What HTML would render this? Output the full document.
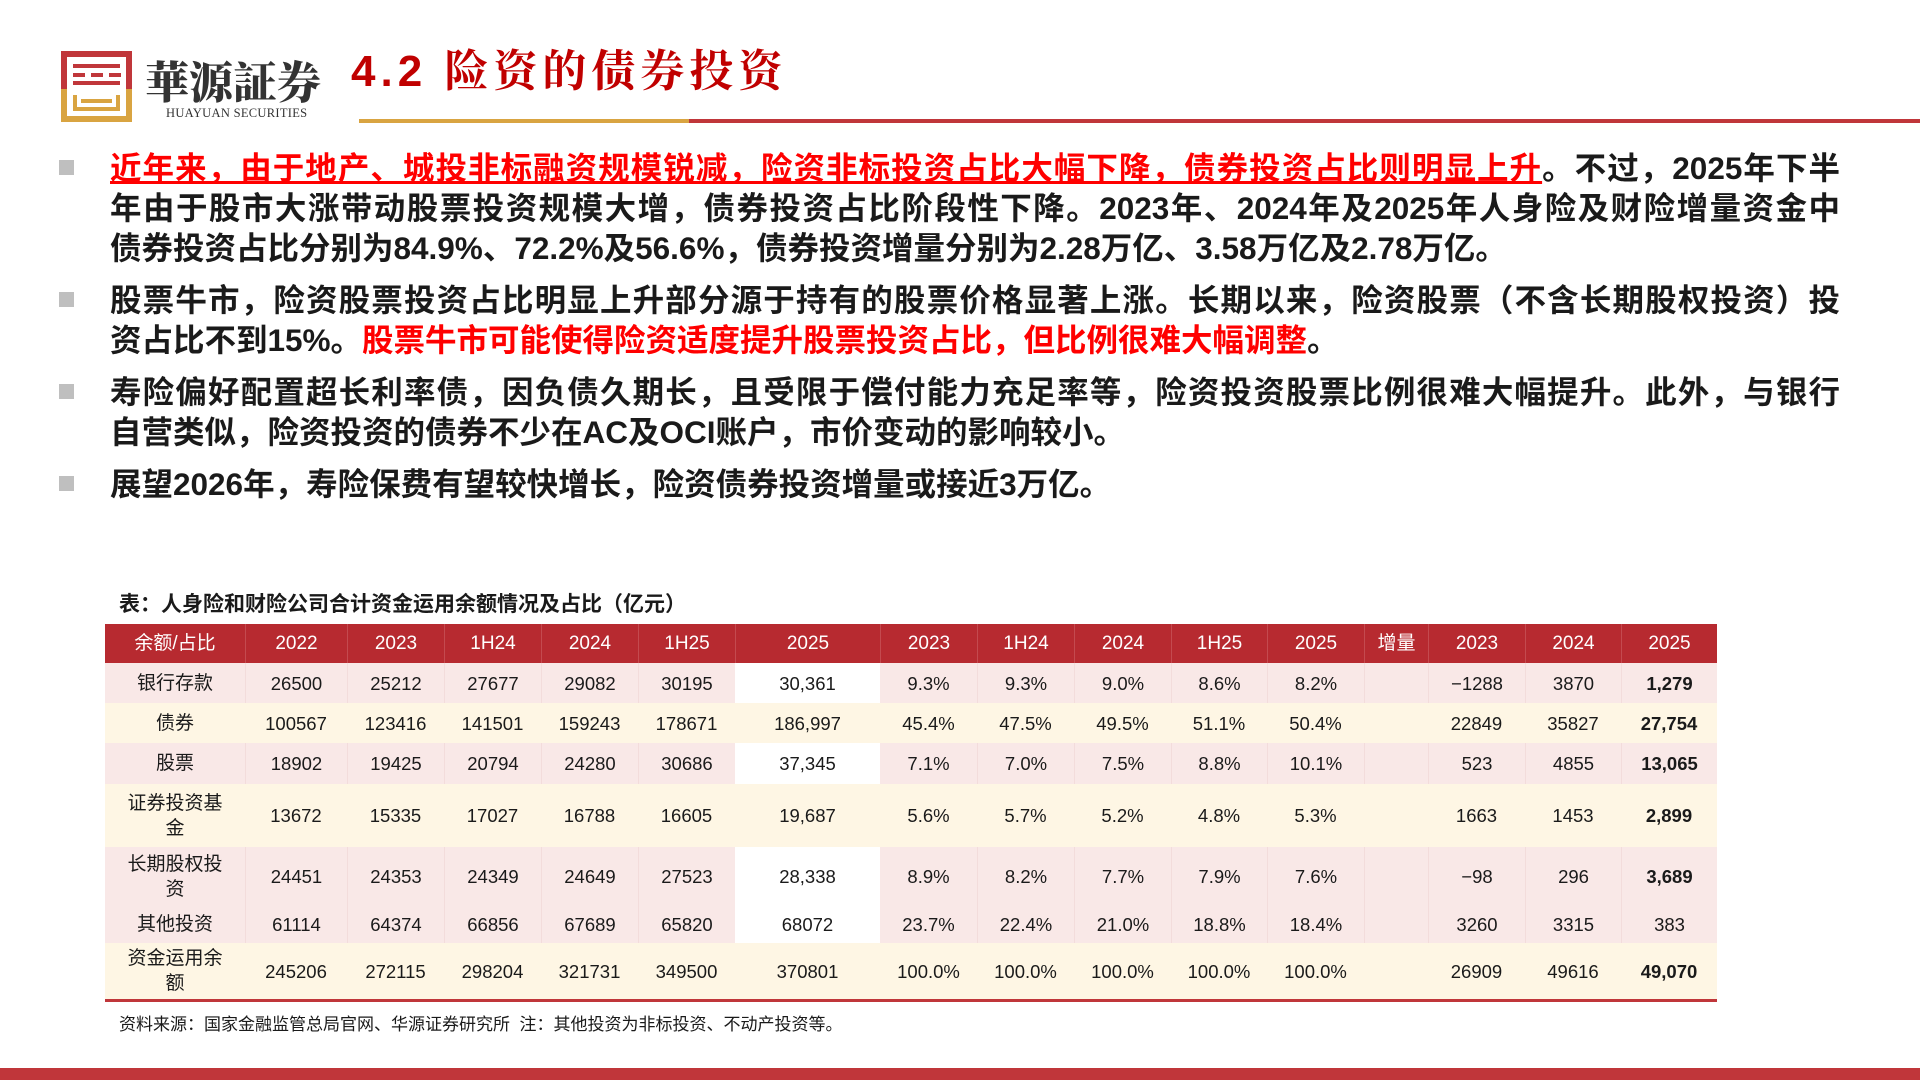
<!DOCTYPE html>
<html><head><meta charset="utf-8"><style>
body{margin:0;width:1920px;height:1080px;overflow:hidden;background:#fff;position:relative;font-family:"Liberation Sans","Noto Sans CJK SC",sans-serif}
.abs{position:absolute}
.bl{position:absolute;left:110px;width:1730px;font-size:31.5px;font-weight:bold;color:#1a1a1a;line-height:40px}
.bl div{white-space:nowrap;text-align:justify;text-align-last:justify}
.bl div.last{text-align-last:left}
.sq{position:absolute;left:59px;width:15px;height:15px;background:#bfbfbf}
.red{color:#ff0000;}
.cell{position:absolute;display:flex;align-items:center;justify-content:center;text-align:center;font-size:18.5px;color:#1a1a1a;box-sizing:border-box;line-height:21px}
</style></head><body>
<div class="abs" style="left:61px;top:51px;width:71px;height:71px">
<svg width="71" height="71" viewBox="0 0 71 71"><rect x="0" y="0" width="71" height="6" fill="#c0363a"/><rect x="0" y="0" width="6" height="38" fill="#c0363a"/><rect x="65" y="0" width="6" height="38" fill="#c0363a"/><rect x="12" y="13" width="47" height="4" fill="#c0363a"/><rect x="12" y="22" width="12" height="4" fill="#c0363a"/><rect x="30" y="22" width="12" height="4" fill="#c0363a"/><rect x="48" y="22" width="12" height="4" fill="#c0363a"/><rect x="12" y="30" width="47" height="4" fill="#c0363a"/><rect x="0" y="38" width="6" height="33" fill="#d9a441"/><rect x="65" y="38" width="6" height="33" fill="#d9a441"/><rect x="0" y="65" width="71" height="6" fill="#d9a441"/><rect x="12" y="44" width="4" height="16" fill="#d9a441"/><rect x="55" y="44" width="4" height="16" fill="#d9a441"/><rect x="20" y="48" width="31" height="4" fill="#d9a441"/><rect x="12" y="56" width="47" height="4" fill="#d9a441"/></svg></div>
<div class="abs" style="left:145px;top:54px;font-family:'Noto Serif CJK SC',serif;font-size:44px;font-weight:900;color:#333;line-height:50px">華源証券</div>
<div class="abs" style="left:166px;top:106px;font-family:'Liberation Serif',serif;font-size:12.5px;color:#333;letter-spacing:0.3px">HUAYUAN SECURITIES</div>
<div class="abs" style="left:351px;top:46px;font-family:'Liberation Sans','Noto Serif CJK SC',serif;font-size:44px;font-weight:bold;color:#c00000;line-height:52px;letter-spacing:5px">4.2 险资的债券投资</div>
<div class="abs" style="left:359px;top:119px;width:330px;height:4px;background:#d9a441"></div>
<div class="abs" style="left:689px;top:119px;width:1231px;height:4px;background:#c0363a"></div>

<div class="sq" style="top:160px"></div>
<div class="bl" style="top:148px">
<div><span class="red" style="text-decoration:underline">近年来，由于地产、城投非标融资规模锐减，险资非标投资占比大幅下降，债券投资占比则明显上升</span>。不过，2025年下半</div>
<div>年由于股市大涨带动股票投资规模大增，债券投资占比阶段性下降。2023年、2024年及2025年人身险及财险增量资金中</div>
<div class="last">债券投资占比分别为84.9%、72.2%及56.6%，债券投资增量分别为2.28万亿、3.58万亿及2.78万亿。</div></div>
<div class="sq" style="top:292px"></div>
<div class="bl" style="top:280px">
<div>股票牛市，险资股票投资占比明显上升部分源于持有的股票价格显著上涨。长期以来，险资股票（不含长期股权投资）投</div>
<div class="last">资占比不到15%。<span class="red">股票牛市可能使得险资适度提升股票投资占比，但比例很难大幅调整</span>。</div></div>
<div class="sq" style="top:384px"></div>
<div class="bl" style="top:372px">
<div>寿险偏好配置超长利率债，因负债久期长，且受限于偿付能力充足率等，险资投资股票比例很难大幅提升。此外，与银行</div>
<div class="last">自营类似，险资投资的债券不少在AC及OCI账户，市价变动的影响较小。</div></div>
<div class="sq" style="top:476px"></div>
<div class="bl" style="top:464px"><div class="last">展望2026年，寿险保费有望较快增长，险资债券投资增量或接近3万亿。</div></div>

<div class="abs" style="left:119px;top:588px;font-size:21px;font-weight:bold;color:#1a1a1a">表：人身险和财险公司合计资金运用余额情况及占比（亿元）</div>
<div class="abs" id="tbl" style="left:0;top:0"></div>
<div class="abs" style="left:105px;top:999px;width:1612px;height:3px;background:#c0363a"></div>
<div class="abs" style="left:119px;top:1010px;font-size:17px;color:#1a1a1a">资料来源：国家金融监管总局官网、华源证券研究所&nbsp; 注：其他投资为非标投资、不动产投资等。</div>
<div class="abs" style="left:0;top:1068px;width:1920px;height:12px;background:#c0363a"></div>
<script>
const headers=["余额/占比","2022","2023","1H24","2024","1H25","2025","2023","1H24","2024","1H25","2025","增量","2023","2024","2025"];
const rowLabels=["银行存款","债券","股票","证券投资基金","长期股权投资","其他投资","资金运用余额"];
const balances=[["26500","25212","27677","29082","30195","30,361"],["100567","123416","141501","159243","178671","186,997"],["18902","19425","20794","24280","30686","37,345"],["13672","15335","17027","16788","16605","19,687"],["24451","24353","24349","24649","27523","28,338"],["61114","64374","66856","67689","65820","68072"],["245206","272115","298204","321731","349500","370801"]];
const shares=[["9.3%","9.3%","9.0%","8.6%","8.2%"],["45.4%","47.5%","49.5%","51.1%","50.4%"],["7.1%","7.0%","7.5%","8.8%","10.1%"],["5.6%","5.7%","5.2%","4.8%","5.3%"],["8.9%","8.2%","7.7%","7.9%","7.6%"],["23.7%","22.4%","21.0%","18.8%","18.4%"],["100.0%","100.0%","100.0%","100.0%","100.0%"]];
const increments=[["−1288","3870","1,279"],["22849","35827","27,754"],["523","4855","13,065"],["1663","1453","2,899"],["−98","296","3,689"],["3260","3315","383"],["26909","49616","49,070"]];
const colX=[105,245,347,444,541,638,735,880,977,1074,1171,1267,1364,1428,1525,1621,1717];
const rowY=[624,663,703,743,784,847,906,943,999];
const pinkRows=[0,2,4,5];
const tbl=document.getElementById('tbl');
function cell(x,y,w,h,txt,bg,st){const d=document.createElement('div');d.className='cell';d.style.cssText+=`left:${x}px;top:${y}px;width:${w}px;height:${h}px;background:${bg};`+(st||'');d.textContent=txt;tbl.appendChild(d);return d;}
headers.forEach((h,i)=>{const d=cell(colX[i],rowY[0],colX[i+1]-colX[i],rowY[1]-rowY[0],h,'#b72a30','color:#fff;font-size:19px;');


if(i>0)d.style.borderLeft='1px solid #c44a4f';});
rowLabels.forEach((lab,r)=>{
 const pink=pinkRows.includes(r); const bg=pink?'#f9e8e7':'#fef6e4';
 const y=rowY[r+1],h=rowY[r+2]-y;
 const vals=[lab,...balances[r],...shares[r],"",...increments[r]];
 vals.forEach((v,i)=>{let b=bg; if(i===6&&pink)b='#ffffff';
  let st=''; if(i===15&&v!=="383")st='font-weight:bold;';
  if(pink&&i>0&&i!==6&&i!==7)st+='border-left:1px solid #f3dcdb;';
  const lw=(i===0)?'padding:0 22px;font-size:19px;line-height:25px;':'';
  const d=cell(colX[i],y,colX[i+1]-colX[i],h,v,b,st+lw);
  
  });
});
</script>
</body></html>
